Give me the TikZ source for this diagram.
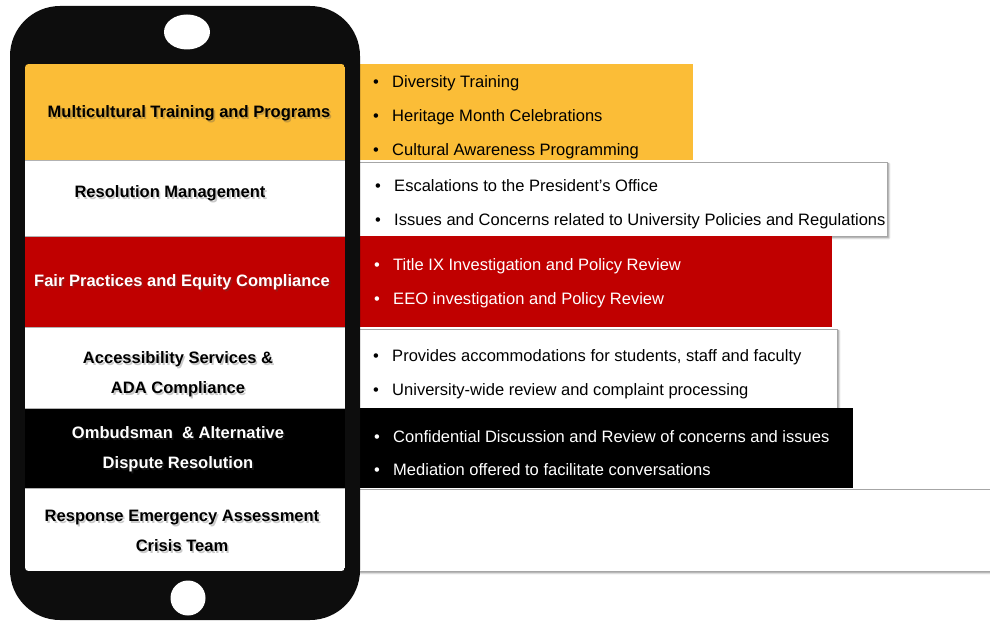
\documentclass[tikz,border=0pt]{standalone}
\usepackage{fontspec}
\setmainfont{Liberation Sans}
\usepackage{xcolor}
\usetikzlibrary{shadows.blur}

\definecolor{gold}{RGB}{251,189,55}
\definecolor{crimson}{RGB}{192,0,0}
\definecolor{phone}{RGB}{13,13,13}

\tikzset{
  px/.style={x=0.03cm, y=-0.03cm},
  panel/.style={draw=gray!70, line width=0.6pt,
    blur shadow={shadow xshift=1.6pt, shadow yshift=-1.6pt, shadow blur radius=1.6pt, shadow opacity=45}},
  sep/.style={draw=gray!60, line width=0.8pt},
  lbl/.style={font=\bfseries\fontsize{14.1}{25.5}\selectfont, align=center, inner sep=0pt},
  item/.style={anchor=base west, inner sep=0pt, font=\fontsize{14.1}{16}\selectfont},
}
\newcommand{\bul}{\makebox[0.57cm][l]{\textbullet}}
\newcommand{\areatitle}[4]{%
  \node[lbl, text=black!70, opacity=.3, xshift=1.4pt, yshift=-1.8pt] (#1s) at (#2) {#4};
  \node[lbl, text=#3] (#1) at (#2) {#4};}

\begin{document}
\begin{tikzpicture}[px]
\useasboundingbox (0,0) rectangle (990,621);
\clip (0,0) rectangle (990,621);

\fill[gold] (340,64) rectangle (693,160);
\filldraw[fill=white, panel] (340,162) rectangle (887,236);
\fill[crimson] (340,236) rectangle (832,327);
\filldraw[fill=white, panel] (340,329) rectangle (837,408);
\fill[black] (340,408) rectangle (853,488);
\filldraw[fill=white, panel] (340,489) rectangle (1010,571);

\fill[phone, rounded corners=1.5cm] (10,6) rectangle (360,620);
\fill[white] (187,32) ellipse [x radius=23, y radius=17.5];
\fill[white] (188,598) circle [radius=17.5];

\begin{scope}
  \clip[rounded corners=3pt] (25,64) rectangle (345,571);
  \fill[gold] (25,64) rectangle (345,160);
  \fill[white] (25,160) rectangle (345,236);
  \fill[crimson] (25,236) rectangle (345,327);
  \fill[white] (25,327) rectangle (345,408);
  \fill[black] (25,408) rectangle (345,488);
  \fill[white] (25,488) rectangle (345,571);
  \draw[sep] (25,160) -- (345,160) (25,236) -- (345,236) (25,327) -- (345,327)
    (25,408) -- (345,408) (25,488) -- (345,488);
\end{scope}

\areatitle{mtp}{189,113}{black}{Multicultural Training and Programs}
\areatitle{rm}{170,193}{black}{Resolution Management}
\areatitle{fpe}{182,282}{white}{Fair Practices and Equity Compliance}
\areatitle{asc}{178,374}{black}{Accessibility Services \&\\ADA Compliance}
\areatitle{oad}{178,449}{white}{Ombudsman \ \& Alternative\\Dispute Resolution}
\areatitle{reat}{182,531}{black}{Response Emergency Assessment\\Crisis Team}

\node[item] (mtp1) at (373,88) {\bul Diversity Training};
\node[item] (mtp2) at (373,122) {\bul Heritage Month Celebrations};
\node[item] (mtp3) at (373,156) {\bul Cultural Awareness Programming};

\node[item] (rm1) at (375,191) {\bul Escalations to the President's Office};
\node[item] (rm2) at (375,225) {\bul Issues and Concerns related to University Policies and Regulations};

\node[item, text=white] (fpe1) at (374,270) {\bul Title IX Investigation and Policy Review};
\node[item, text=white] (fpe2) at (374,304) {\bul EEO investigation and Policy Review};

\node[item] (asc1) at (373,361) {\bul Provides accommodations for students, staff and faculty};
\node[item] (asc2) at (373,395) {\bul University-wide review and complaint processing};

\node[item, text=white] (oad1) at (374,442) {\bul Confidential Discussion and Review of concerns and issues};
\node[item, text=white] (oad2) at (374,475) {\bul Mediation offered to facilitate conversations};

\end{tikzpicture}
\end{document}
